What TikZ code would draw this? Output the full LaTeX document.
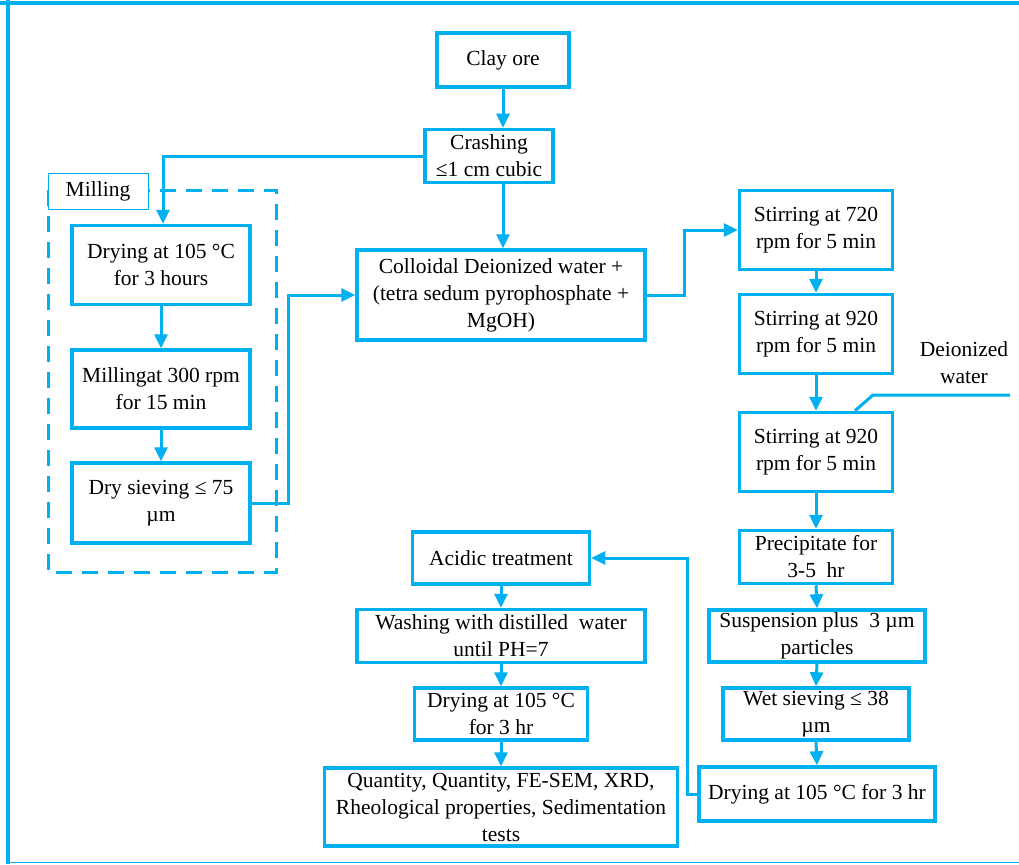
\documentclass[tikz,border=0pt]{standalone}
\usepackage{fontspec}
\newfontfamily\tnr{Liberation Serif}
\usetikzlibrary{arrows.meta,calc}
\definecolor{cb}{HTML}{00B0F0}
\begin{document}
\begin{tikzpicture}[x=1pt,y=-1pt,
  font=\tnr\fontsize{21.5}{27}\selectfont,
  pbox/.style={draw=cb,line width=3.5pt,align=center,inner sep=0pt,fill=white},
  conn/.style={draw=cb,line width=3pt,-{Triangle[width=13pt,length=14pt]}},
  plain/.style={draw=cb,line width=3pt}]
\useasboundingbox (0,0) rectangle (1019,864);
% frame
\draw[cb,line width=4pt] (0,3) -- (1019,3);
\draw[cb,line width=4pt] (7.5,0) -- (7.5,864);
\draw[cb,line width=1.5pt] (7,862.5) -- (1019,862.5);
% milling group
\draw[cb,line width=3pt,dash pattern=on 16pt off 10pt] (48,190) rectangle (276,572);
\node[draw=cb,line width=0.8pt,fill=white,minimum width=100pt,minimum height=36pt,inner sep=0pt] (ml) at (98,191) {Milling};
% boxes
\node[pbox,minimum width=132pt,minimum height=54pt] (clay) at (503,60) {Clay ore};
\node[pbox,minimum width=128pt,minimum height=53pt] (cr) at (489,156) {Crashing\\≤1 cm cubic};
\node[pbox,minimum width=178pt,minimum height=79pt] (d1) at (161,265) {Drying at 105 °C\\for 3 hours};
\node[pbox,minimum width=178pt,minimum height=78pt] (mi) at (161,389) {Millingat 300 rpm\\for 15 min};
\node[pbox,minimum width=178pt,minimum height=80pt] (ds) at (161,503) {Dry sieving ≤ 75\\µm};
\node[pbox,minimum width=288pt,minimum height=90pt] (col) at (501,295) {Colloidal Deionized water +\\(tetra sedum pyrophosphate +\\MgOH)};
\node[pbox,minimum width=153pt,minimum height=79pt] (s1) at (816,230) {Stirring at 720\\rpm for 5 min};
\node[pbox,minimum width=153pt,minimum height=79pt] (s2) at (816,334) {Stirring at 920\\rpm for 5 min};
\node[pbox,minimum width=153pt,minimum height=79pt] (s3) at (816,452) {Stirring at 920\\rpm for 5 min};
\node[pbox,minimum width=153pt,minimum height=53pt] (pr) at (816,557) {Precipitate for\\3-5\ \ hr};
\node[pbox,minimum width=216pt,minimum height=52pt] (su) at (817,636) {Suspension plus\ \ 3 µm\\particles};
\node[pbox,minimum width=186pt,minimum height=52pt] (ws) at (816,714) {Wet sieving ≤ 38\\µm};
\node[pbox,minimum width=236pt,minimum height=54pt] (d5) at (817,794) {Drying at 105 °C for 3 hr};
\node[pbox,minimum width=177pt,minimum height=52pt] (ac) at (501,558) {Acidic treatment};
\node[pbox,minimum width=288pt,minimum height=53pt] (wa) at (501,636) {Washing with distilled\ \ water\\until PH=7};
\node[pbox,minimum width=173pt,minimum height=52pt] (d6) at (501,714) {Drying at 105 °C\\for 3 hr};
\node[pbox,minimum width=353pt,minimum height=78pt] (qa) at (501,807) {Quantity, Quantity, FE-SEM, XRD,\\Rheological properties, Sedimentation\\tests};
\node[align=center,inner sep=0pt] (dwl) at (964,363) {Deionized\\water};
% connectors
\draw[conn] (clay.south) -- (clay.south |- cr.north);
\draw[conn] (cr.south -| clay.south) -- (col.north -| clay.south);
\draw[conn] (cr.west) -| ([xshift=2pt]d1.north);
\draw[conn] (d1.south) -- (mi.north);
\draw[conn] (mi.south) -- (ds.north);
\draw[conn] (ds.east) -- ++(37,0) |- (col.west);
\draw[conn] (col.east) -- ++(38,0) |- (s1.west);
\draw[conn] (s1.south) -- (s2.north);
\draw[conn] (s2.south) -- (s3.north);
\draw[conn] (s3.south) -- (pr.north);
\draw[conn] (pr.south) -- (su.north);
\draw[conn] (su.south) -- (ws.north);
\draw[conn] (ws.south) -- (d5.north);
\draw[conn] (d5.west) -- ++(-10,0) |- (ac.east);
\draw[conn] (ac.south) -- (wa.north);
\draw[conn] (wa.south) -- (d6.north);
\draw[conn] (d6.south) -- (qa.north);
\coordinate (dwa) at (1010,395);
\coordinate (dwk) at (873,395);
\draw[plain] (dwa) -- (dwk) -- ([xshift=39pt]s3.north);
\end{tikzpicture}
\end{document}
